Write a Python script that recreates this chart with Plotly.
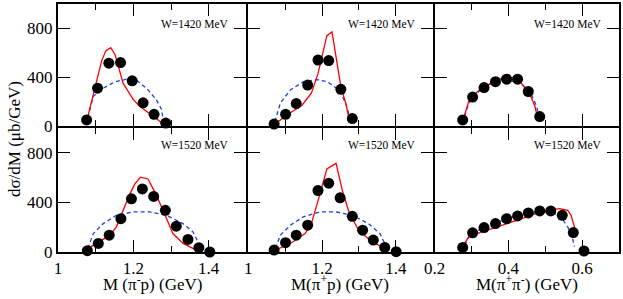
import plotly.graph_objects as go

# ---------------- data ----------------
# W = 1420 MeV, M(pi- p)
p1_x = [1.076, 1.105, 1.135, 1.166, 1.197, 1.226, 1.255, 1.286]
p1_y = [50, 310, 515, 520, 370, 190, 96, 24]
p1_red_x = [1.077, 1.116, 1.127, 1.140, 1.151, 1.173, 1.200, 1.217, 1.252, 1.283]
p1_red_y = [50, 536, 616, 642, 589, 349, 216, 162, 82, 8]
p1_blue_x = [1.079, 1.094, 1.120, 1.151, 1.182, 1.208, 1.235, 1.261, 1.275, 1.281]
p1_blue_y = [70, 243, 310, 362, 384, 376, 310, 216, 136, 16]

# W = 1420 MeV, M(pi+ p)
p2_x = [1.070, 1.101, 1.130, 1.161, 1.189, 1.218, 1.251, 1.282]
p2_y = [16, 96, 184, 336, 541, 536, 301, 61]
p2_red_x = [1.072, 1.114, 1.145, 1.171, 1.189, 1.202, 1.213, 1.227, 1.238, 1.251, 1.264, 1.275]
p2_red_y = [16, 109, 168, 269, 429, 589, 741, 771, 563, 323, 189, 35]
p2_blue_x = [1.072, 1.087, 1.114, 1.149, 1.185, 1.215, 1.246, 1.264, 1.277]
p2_blue_y = [35, 189, 296, 362, 381, 362, 296, 189, 56]

# W = 1420 MeV, M(pi+ pi-)
p3_x = [0.276, 0.303, 0.334, 0.365, 0.395, 0.425, 0.454, 0.485]
p3_y = [50, 237, 315, 363, 384, 384, 283, 77]
p3_red_x = [0.281, 0.294, 0.321, 0.352, 0.387, 0.410, 0.432, 0.459, 0.472, 0.481]
p3_red_y = [88, 216, 296, 349, 397, 397, 362, 256, 162, 43]
p3_blue_x = [0.281, 0.296, 0.336, 0.387, 0.432, 0.459, 0.477, 0.484]
p3_blue_y = [80, 216, 330, 378, 357, 277, 160, 40]

# W = 1520 MeV, M(pi- p)
p4_x = [1.078, 1.107, 1.136, 1.167, 1.195, 1.224, 1.254, 1.285, 1.314, 1.345, 1.374, 1.403]
p4_y = [11, 69, 136, 269, 429, 509, 448, 336, 208, 101, 35, 0]
p4_red_x = [1.080, 1.111, 1.138, 1.155, 1.173, 1.191, 1.204, 1.219, 1.239, 1.257, 1.279, 1.305, 1.332, 1.358, 1.378]
p4_red_y = [29, 83, 136, 203, 336, 469, 549, 603, 589, 483, 336, 149, 69, 29, 11]
p4_blue_x = [1.079, 1.094, 1.120, 1.155, 1.200, 1.244, 1.288, 1.332, 1.358, 1.374, 1.378]
p4_blue_y = [29, 149, 229, 296, 323, 323, 296, 229, 163, 69, 11]

# W = 1520 MeV, M(pi+ p)
p5_x = [1.070, 1.101, 1.130, 1.161, 1.189, 1.218, 1.249, 1.282, 1.310, 1.339, 1.370, 1.401]
p5_y = [16, 75, 136, 216, 496, 555, 437, 288, 176, 96, 37, 3]
p5_red_x = [1.074, 1.114, 1.154, 1.171, 1.192, 1.213, 1.238, 1.255, 1.273, 1.299, 1.335, 1.370, 1.377]
p5_red_y = [16, 69, 149, 229, 443, 669, 715, 496, 323, 176, 83, 29, 11]
p5_blue_x = [1.074, 1.087, 1.114, 1.149, 1.193, 1.238, 1.282, 1.326, 1.357, 1.370, 1.374]
p5_blue_y = [29, 136, 216, 283, 323, 323, 296, 229, 149, 69, 11]

# W = 1520 MeV, M(pi+ pi-)
p6_x = [0.276, 0.303, 0.334, 0.365, 0.395, 0.425, 0.454, 0.485, 0.515, 0.546, 0.576, 0.605]
p6_y = [37, 155, 197, 229, 269, 291, 315, 331, 331, 296, 157, 8]
p6_red_x = [0.281, 0.294, 0.343, 0.397, 0.450, 0.494, 0.539, 0.561, 0.570, 0.579, 0.581]
p6_red_y = [69, 128, 176, 229, 283, 331, 349, 336, 296, 203, 123]
p6_blue_x = [0.281, 0.299, 0.343, 0.397, 0.450, 0.503, 0.539, 0.561, 0.574, 0.579]
p6_blue_y = [56, 149, 208, 269, 315, 323, 296, 203, 109, 43]

w_labels = ["W=1420 MeV", "W=1420 MeV", "W=1420 MeV", "W=1520 MeV", "W=1520 MeV", "W=1520 MeV"]
x_titles = ["M (π<sup>-</sup>p) (GeV)", "M(π<sup>+</sup>p) (GeV)", "M(π<sup>+</sup>π<sup>-</sup>) (GeV)"]
y_title = "dσ/dM (μb/GeV)"
x_ranges = [[1.0, 1.5], [1.0, 1.5], [0.2, 0.7]]
x_tick0 = [1.0, 1.0, 0.2]
y_range = [0, 1000]

panels = [
    (p1_x, p1_y, p1_red_x, p1_red_y, p1_blue_x, p1_blue_y),
    (p2_x, p2_y, p2_red_x, p2_red_y, p2_blue_x, p2_blue_y),
    (p3_x, p3_y, p3_red_x, p3_red_y, p3_blue_x, p3_blue_y),
    (p4_x, p4_y, p4_red_x, p4_red_y, p4_blue_x, p4_blue_y),
    (p5_x, p5_y, p5_red_x, p5_red_y, p5_blue_x, p5_blue_y),
    (p6_x, p6_y, p6_red_x, p6_red_y, p6_blue_x, p6_blue_y),
]

# ---------------- figure ----------------
W, H = 623, 299
ML, MR, MT, MB = 58, 2, 2, 47
pw = W - ML - MR
ph = H - MT - MB
LW = 2
MAJ, MIN = 12, 6
FONT = "Liberation Serif"
xpix = [(0, 189), (189 + LW, 376), (376 + LW, pw)]
ypix = [(ph / 2 + LW, ph), (0, ph / 2)]  # top row, bottom row (measured from bottom)
xdoms = [[a / pw, b / pw] for a, b in xpix]
ydoms = [[a / ph, b / ph] for a, b in ypix]

fig = go.Figure()
layout = {}
annotations = []
axis_font = dict(family=FONT, size=17, color="black")

for i, (mx, my, rx, ry, bx, by) in enumerate(panels):
    k = i + 1
    row, col = divmod(i, 3)
    xa = "x" if k == 1 else f"x{k}"
    ya = "y" if k == 1 else f"y{k}"
    pxw = xpix[col][1] - xpix[col][0]
    pxh = ypix[row][1] - ypix[row][0]

    fig.add_trace(go.Scatter(x=bx, y=by, xaxis=xa, yaxis=ya, mode="lines",
                             line=dict(color="#1f3fe8", width=1.3, dash="4px,3px"),
                             cliponaxis=False, showlegend=False))
    fig.add_trace(go.Scatter(x=rx, y=ry, xaxis=xa, yaxis=ya, mode="lines",
                             line=dict(color="#ff0000", width=1.3),
                             cliponaxis=False, showlegend=False))
    fig.add_trace(go.Scatter(x=mx, y=my, xaxis=xa, yaxis=ya, mode="markers",
                             marker=dict(color="black", size=11, symbol="circle"),
                             cliponaxis=False, showlegend=False))
    base = dict(showline=True, linecolor="black", linewidth=LW, mirror="ticks",
                ticks="inside", ticklen=MAJ, tickwidth=1.3, tickcolor="black",
                showgrid=False, zeroline=False, tickfont=axis_font)
    layout["xaxis" if k == 1 else f"xaxis{k}"] = dict(
        domain=xdoms[col], anchor=ya, range=x_ranges[col],
        tickmode="linear", tick0=x_tick0[col], dtick=0.2,
        minor=dict(tick0=x_tick0[col], dtick=0.1, ticks="inside", ticklen=MIN,
                   tickwidth=1.3, tickcolor="black", showgrid=False),
        showticklabels=(row == 1), **base)
    layout["yaxis" if k == 1 else f"yaxis{k}"] = dict(
        domain=ydoms[row], anchor=xa, range=y_range,
        tickmode="linear", tick0=0, dtick=400,
        showticklabels=(col == 0), **base)

    annotations.append(dict(
        text=w_labels[i], xref=f"{xa} domain", yref=f"{ya} domain",
        x=1 - 15 / pxw, y=1 - (20 if row == 0 else 17) / pxh,
        xanchor="right", yanchor="middle", showarrow=False,
        font=dict(family=FONT, size=11.5, color="black")))

for col in range(3):
    annotations.append(dict(
        text=x_titles[col], xref="paper", yref="paper",
        x=(xdoms[col][0] + xdoms[col][1]) / 2, y=(252 - 283) / ph,
        xanchor="center", yanchor="middle", showarrow=False,
        font=dict(family=FONT, size=17, color="black")))

annotations.append(dict(
    text=y_title, xref="paper", yref="paper",
    x=(15 - ML) / pw, y=(252 - 138) / ph, textangle=-90,
    xanchor="center", yanchor="middle", showarrow=False,
    font=dict(family=FONT, size=17, color="black")))

fig.update_layout(**layout)
fig.update_layout(
    width=W, height=H, margin=dict(l=ML, r=MR, t=MT, b=MB),
    paper_bgcolor="white", plot_bgcolor="white",
    annotations=annotations, showlegend=False)

fig.write_html("out.html", config={"displayModeBar": False},
               post_script="document.body.style.margin='0px';document.body.style.overflow='hidden';")
